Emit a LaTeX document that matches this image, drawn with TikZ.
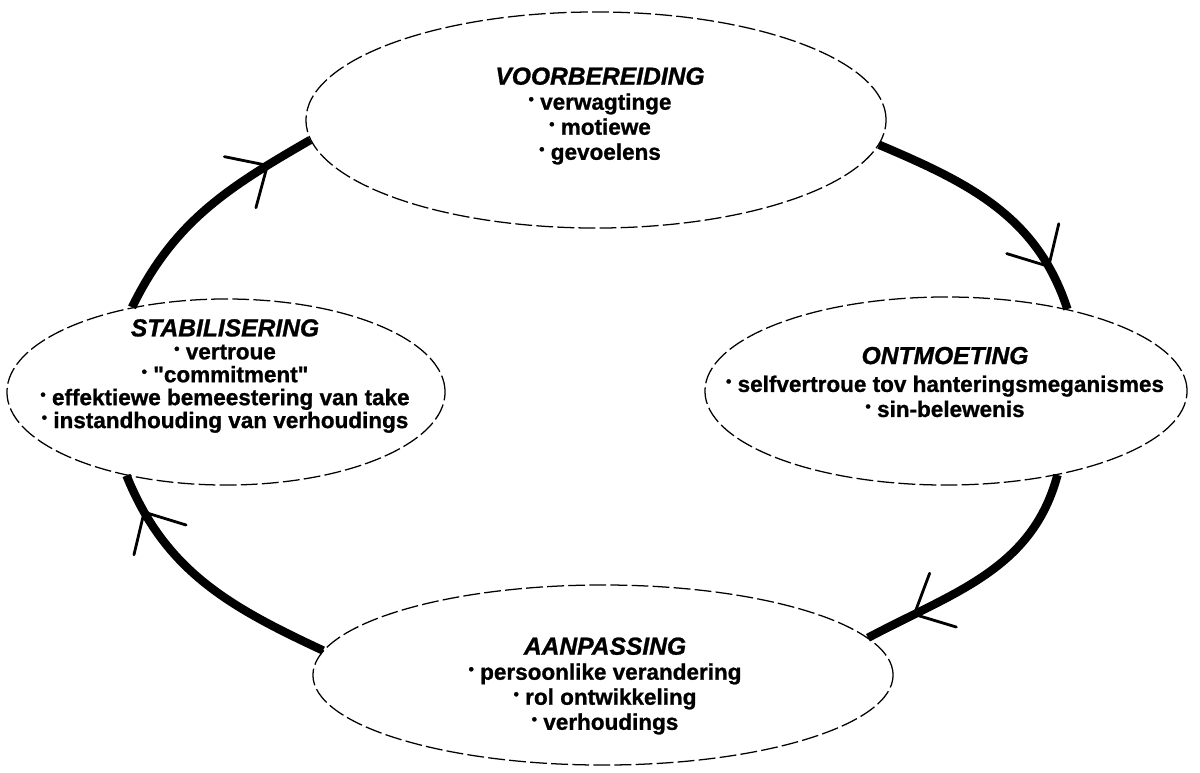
\documentclass[tikz,border=0pt]{standalone}
\usepackage{fontspec}
\setmainfont{Liberation Sans}[BoldFeatures={FakeBold=1}, BoldItalicFeatures={FakeBold=1}]
\usetikzlibrary{shapes.geometric,decorations.markings}

\newcommand{\itm}[1]{\raisebox{.45ex}{\fontsize{11}{11}\selectfont\textbullet}\ #1}
\newcommand{\stagetitle}[1]{{\fontsize{17.5}{17.5}\selectfont\itshape #1}}

\begin{document}
\begin{tikzpicture}[
    x=0.025cm, y=0.025cm,
    stage/.style={ellipse, draw=black, line width=0.9pt, dash pattern=on 12pt off 3pt, inner sep=0pt},
    stagetext/.style={align=center, font=\fontsize{16}{17.8}\selectfont\bfseries},
    loopline/.style={line width=6pt, postaction={decorate, decoration={markings,
        mark=at position #1 with {\draw[line width=2pt, line cap=round, solid] (-0.8cm,0.75cm) -- (0,0) -- (-0.8cm,-0.75cm);}}}}
]
\useasboundingbox (0,0) rectangle (1200,-772);

% the four stages
\node[stage, minimum width=14.5cm, minimum height=5.4cm] (voor) at (596,-120) {};
\node[stage, minimum width=12.05cm, minimum height=4.7cm] (ontm) at (946,-391) {};
\node[stage, minimum width=14.5cm, minimum height=4.5cm] (aanp) at (603,-675) {};
\node[stage, minimum width=10.95cm, minimum height=4.65cm] (stab) at (226,-392) {};

\node[stagetext] (voortext) at (600,-116) {\stagetitle{VOORBEREIDING}\\ \itm{verwagtinge}\\ \itm{motiewe}\\ \itm{gevoelens}};
\node[stagetext] (ontmtext) at (945,-382) {\stagetitle{ONTMOETING}\\[2pt] \itm{selfvertroue tov hanteringsmeganismes}\\ \itm{sin-belewenis}};
\node[stagetext] (aanptext) at (605,-686) {\stagetitle{AANPASSING}\\ \itm{persoonlike verandering}\\ \itm{rol ontwikkeling}\\ \itm{verhoudings}};
\node[stagetext, font=\fontsize{16}{16.3}\selectfont\bfseries] (stabtext) at (225,-376) {\stagetitle{STABILISERING}\\ \itm{vertroue}\\ \itm{\textquotedbl commitment\textquotedbl}\\ \itm{effektiewe bemeestering van take}\\ \itm{instandhouding van verhoudings}};

% the cycle
\draw[loopline=0.82] (voor.-5) to[out=-23, in=108] (ontm.34);
\draw[loopline=0.8] (ontm.-37) to[out=-105, in=28] (aanp.8);
\draw[loopline=0.85] (aanp.175) to[out=155, in=-68] (stab.220);
\draw[loopline=0.8] (stab.138) to[out=64, in=210] (voor.184);

\end{tikzpicture}
\end{document}
